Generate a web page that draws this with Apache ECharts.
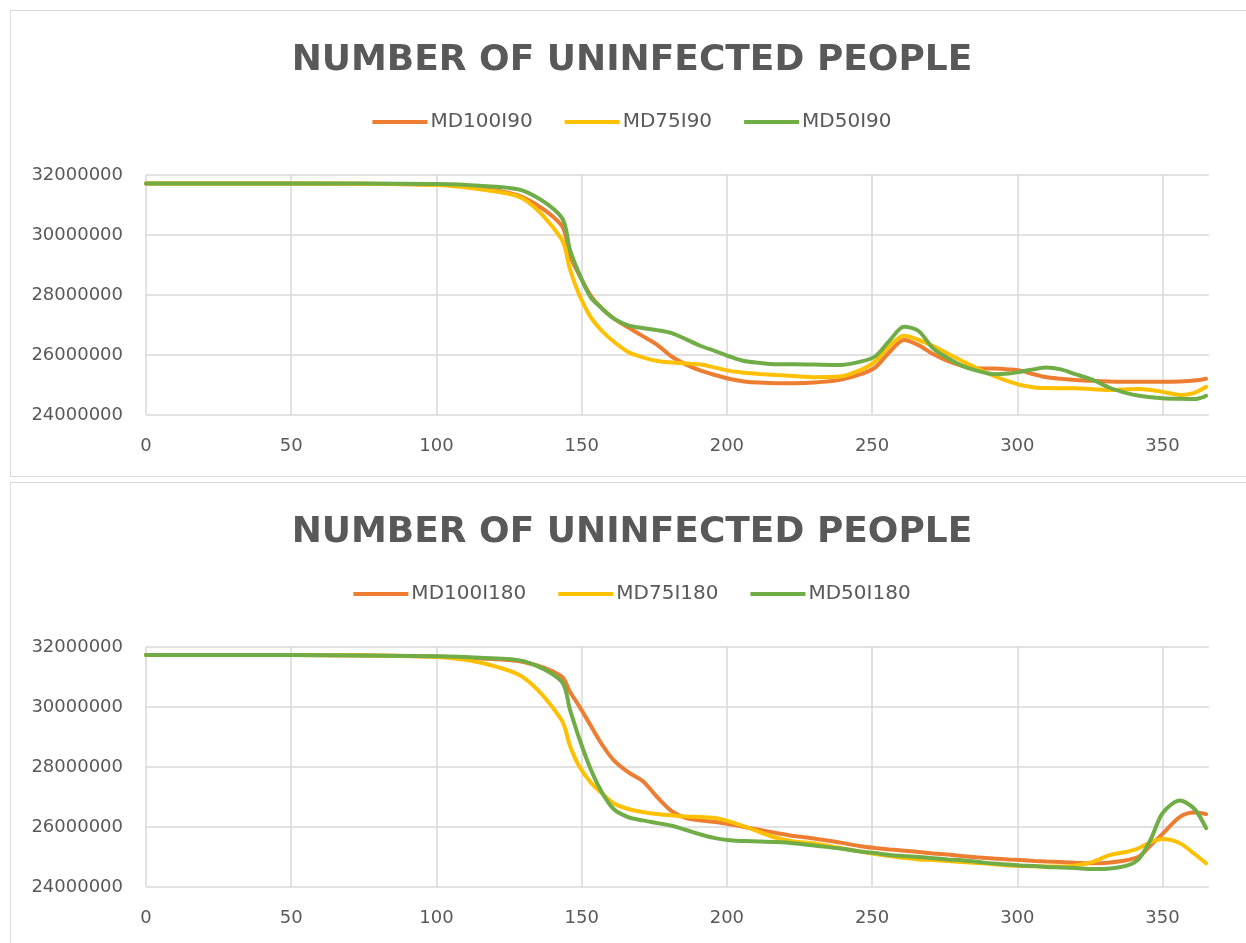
<!DOCTYPE html>
<html>
<head>
<meta charset="utf-8">
<script src="https://cdn.jsdelivr.net/npm/echarts@6/dist/echarts.min.js"></script>
<style>
  html, body { margin: 0; padding: 0; background: #fff; overflow: hidden; }
  .box { position: absolute; left: 10px; width: 1242px; border: 1px solid #d9d9d9; background: #fff; }
</style>
</head>
<body>
<div id="chart90" class="box" style="top:10px;height:465px;"></div>
<div id="chart180" class="box" style="top:482px;height:470px;"></div>
<script>
// day of the year (x axis)
const days = [0, 50, 100, 115, 130, 143, 146, 149, 153, 157, 161, 166, 171, 176, 181, 186, 191, 196, 201, 206,
  211, 217, 223, 230, 239, 246, 251, 256, 261, 266, 271, 276, 281, 286, 292, 297, 301, 306, 310, 315,
  320, 326, 332, 338, 342, 346, 350, 356, 361, 365];

// chart 1 - isolation 90
const md100i90 = [31720000, 31720000, 31680000, 31560000, 31250000, 30330000, 29300000, 28700000, 28000000, 27550000,
  27220000, 26920000, 26630000, 26340000, 25950000, 25680000, 25480000, 25330000, 25200000, 25120000,
  25080000, 25060000, 25060000, 25080000, 25170000, 25360000, 25580000, 26100000, 26500000, 26330000,
  26030000, 25800000, 25640000, 25560000, 25550000, 25520000, 25480000, 25350000, 25260000, 25210000,
  25170000, 25140000, 25120000, 25110000, 25110000, 25110000, 25110000, 25120000, 25150000, 25210000];
const md75i90 = [31720000, 31720000, 31670000, 31520000, 31200000, 29880000, 28850000, 28050000, 27280000, 26800000,
  26450000, 26100000, 25920000, 25800000, 25750000, 25720000, 25680000, 25580000, 25470000, 25410000,
  25370000, 25330000, 25300000, 25260000, 25280000, 25500000, 25780000, 26300000, 26640000, 26500000,
  26300000, 26050000, 25800000, 25560000, 25300000, 25120000, 25000000, 24920000, 24900000, 24890000,
  24890000, 24860000, 24830000, 24860000, 24870000, 24830000, 24770000, 24670000, 24740000, 24940000];
const md50i90 = [31720000, 31720000, 31700000, 31640000, 31470000, 30600000, 29500000, 28750000, 27940000, 27550000,
  27220000, 26990000, 26900000, 26830000, 26730000, 26520000, 26300000, 26130000, 25950000, 25800000,
  25740000, 25690000, 25690000, 25680000, 25670000, 25780000, 25950000, 26480000, 26940000, 26800000,
  26220000, 25900000, 25640000, 25480000, 25360000, 25380000, 25440000, 25530000, 25580000, 25520000,
  25360000, 25170000, 24900000, 24720000, 24640000, 24590000, 24560000, 24540000, 24530000, 24640000];

// chart 2 - isolation 180
const md100i180 = [31730000, 31730000, 31680000, 31620000, 31500000, 31030000, 30500000, 30050000, 29400000, 28750000,
  28230000, 27830000, 27530000, 27000000, 26530000, 26300000, 26220000, 26170000, 26090000, 26000000,
  25910000, 25800000, 25700000, 25620000, 25480000, 25360000, 25300000, 25250000, 25210000, 25170000,
  25120000, 25080000, 25030000, 24990000, 24950000, 24920000, 24900000, 24870000, 24850000, 24830000,
  24810000, 24790000, 24820000, 24900000, 25020000, 25400000, 25770000, 26340000, 26480000, 26430000];
const md75i180 = [31730000, 31730000, 31670000, 31480000, 30980000, 29580000, 28700000, 28050000, 27500000, 27120000,
  26790000, 26600000, 26500000, 26430000, 26390000, 26350000, 26330000, 26300000, 26180000, 26020000,
  25840000, 25640000, 25520000, 25450000, 25300000, 25180000, 25100000, 25030000, 24970000, 24920000,
  24900000, 24870000, 24830000, 24800000, 24760000, 24720000, 24700000, 24690000, 24680000, 24680000,
  24720000, 24840000, 25070000, 25180000, 25300000, 25500000, 25600000, 25460000, 25100000, 24790000];
const md50i180 = [31730000, 31730000, 31690000, 31640000, 31530000, 30860000, 29900000, 29000000, 27950000, 27150000,
  26600000, 26330000, 26220000, 26130000, 26040000, 25900000, 25750000, 25630000, 25560000, 25530000,
  25520000, 25500000, 25460000, 25380000, 25280000, 25180000, 25130000, 25070000, 25030000, 25000000,
  24960000, 24920000, 24890000, 24840000, 24780000, 24750000, 24720000, 24700000, 24670000, 24650000,
  24630000, 24600000, 24620000, 24720000, 24950000, 25600000, 26460000, 26880000, 26600000, 25960000];

const colors = ['#ED7D31', '#FFC000', '#70AD47'];
const textColor = '#595959';
const gridColor = '#d9d9d9';

function pairs(xs, ys) {
  return xs.map((x, i) => [x, ys[i]]);
}

function makeChart(el, names, values) {
  let chart = echarts.init(document.getElementById(el));
  chart.setOption({
    animation: false,
    color: colors,
    title: {
      text: 'NUMBER OF UNINFECTED PEOPLE',
      left: 'center',
      top: 27,
      textStyle: {
        fontFamily: 'DejaVu Sans',
        fontWeight: 'bold',
        fontSize: 36,
        color: textColor
      }
    },
    legend: {
      data: names,
      left: 'center',
      top: 96,
      icon: 'rect',
      itemWidth: 55,
      itemHeight: 4,
      itemGap: 32,
      textStyle: {
        fontFamily: 'DejaVu Sans',
        fontSize: 20,
        color: textColor,
        padding: [0, 0, 0, -2]
      }
    },
    grid: {
      left: 135,
      top: 164,
      width: 1063,
      height: 240
    },
    xAxis: {
      type: 'value',
      min: 0,
      max: 366,
      interval: 50,
      axisLine: { show: false },
      axisTick: { show: false },
      splitLine: { show: true, showMaxLine: false, lineStyle: { color: gridColor, width: 1.5 } },
      axisLabel: {
        margin: 22,
        fontFamily: 'DejaVu Sans',
        fontSize: 18,
        color: textColor,
        showMaxLabel: false
      }
    },
    yAxis: {
      type: 'value',
      min: 24000000,
      max: 32000000,
      interval: 2000000,
      axisLine: { show: false },
      axisTick: { show: false },
      splitLine: { show: true, lineStyle: { color: gridColor, width: 1.5 } },
      axisLabel: {
        margin: 23,
        fontFamily: 'DejaVu Sans',
        fontSize: 18,
        color: textColor,
        formatter: (v) => String(v)
      }
    },
    series: names.map((name, i) => ({
      name: name,
      type: 'line',
      smooth: 0.3,
      showSymbol: false,
      data: pairs(days, values[i]),
      lineStyle: { width: 4, cap: 'round' }
    }))
  });
  window.addEventListener('resize', () => {
    chart.resize();
  });
}

makeChart('chart90', ['MD100I90', 'MD75I90', 'MD50I90'], [md100i90, md75i90, md50i90]);
makeChart('chart180', ['MD100I180', 'MD75I180', 'MD50I180'], [md100i180, md75i180, md50i180]);
</script>
</body>
</html>
